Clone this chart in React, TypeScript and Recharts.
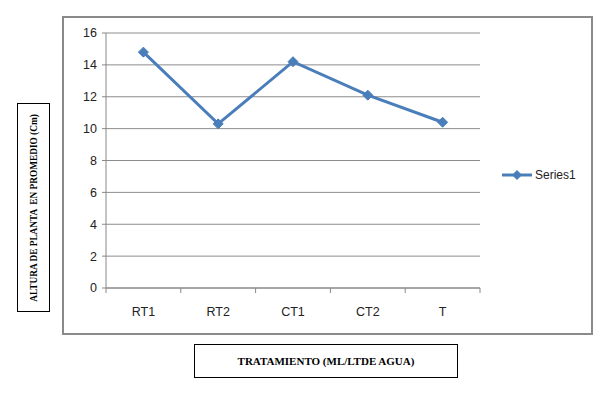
import React from 'react';
import { LineChart, Line, XAxis, YAxis, CartesianGrid } from 'recharts';

const categories = ['RT1', 'RT2', 'CT1', 'CT2', 'T'];
const series1 = [14.8, 10.3, 14.2, 12.1, 10.4];
const yTicks = [0, 2, 4, 6, 8, 10, 12, 14, 16];
const seriesName = 'Series1';
const yLabel = 'ALTURA DE PLANTA  EN PROMEDIO (Cm)';
const xLabel = 'TRATAMIENTO (ML/LTDE AGUA)';

const data = categories.map((c, i) => ({ cat: c, value: series1[i] }));

const W = 600;
const H = 395;
const Y_AXIS_W = 40;
const X_AXIS_H = 30;
const M = { top: 33, right: 120, bottom: 107 - X_AXIS_H, left: 106 - Y_AXIS_W };
const plotW = W - 106 - M.right;
const halfBand = plotW / categories.length / 2;
const axisY = H - 107;
const COLOR = '#4a7ebb';

const XTick = (props: any) => {
  const { x, payload, index } = props;
  return (
    <g>
      <line x1={x - halfBand} x2={x - halfBand} y1={axisY} y2={axisY + 5} stroke="#888" />
      {index === categories.length - 1 && (
        <line x1={x + halfBand} x2={x + halfBand} y1={axisY} y2={axisY + 5} stroke="#888" />
      )}
      <text x={x} y={axisY + 28} textAnchor="middle" fontSize={12.5} fill="#222" fontFamily="'Liberation Sans', Arial, sans-serif">
        {payload.value}
      </text>
    </g>
  );
};

const Diamond = (props: any) => {
  const { cx, cy } = props;
  if (cx == null || cy == null) return null;
  const r = 5;
  return <polygon points={`${cx},${cy - r} ${cx + r},${cy} ${cx},${cy + r} ${cx - r},${cy}`} fill={COLOR} stroke={COLOR} />;
};

const LegendBox = () => (
  <svg width={90} height={16} style={{ position: 'absolute', left: 500, top: 167, overflow: 'visible' }}>
    <line x1={2} x2={32} y1={8} y2={8} stroke={COLOR} strokeWidth={3} />
    <polygon points="17,3 22,8 17,13 12,8" fill={COLOR} />
    <text x={35} y={12} fontSize={12} fill="#222" fontFamily="'Liberation Sans', Arial, sans-serif">{seriesName}</text>
  </svg>
);

export default function App() {
  return (
    <div style={{ position: 'absolute', left: 0, top: 0, width: W, height: H, background: '#fff' }}>
      <div style={{ position: 'absolute', left: 62, top: 16, width: 531, height: 319, border: '2px solid #8a8a8a', boxSizing: 'border-box' }} />
      <div style={{ position: 'absolute', left: 17, top: 103, width: 33, height: 209, border: '1px solid #000', boxSizing: 'border-box' }}>
        <div style={{ position: 'absolute', left: 16, top: 104, transform: 'translate(-50%, -50%) rotate(-90deg)', whiteSpace: 'pre', fontFamily: "'Liberation Serif', 'Times New Roman', serif", fontWeight: 'bold', fontSize: 9.3, color: '#000' }}>
          {yLabel}
        </div>
      </div>
      <div style={{ position: 'absolute', left: 194, top: 344, width: 264, height: 34, border: '1px solid #000', boxSizing: 'border-box', display: 'flex', alignItems: 'center', justifyContent: 'center', fontFamily: "'Liberation Serif', 'Times New Roman', serif", fontWeight: 'bold', fontSize: 11, color: '#000' }}>
        {xLabel}
      </div>
      <div style={{ position: 'absolute', left: 0, top: 0 }}>
        <LineChart width={W} height={H} data={data} margin={M}>
          <CartesianGrid vertical={false} stroke="#8c8c8c" strokeWidth={1} />
          <XAxis dataKey="cat" scale="band" stroke="#888" tickLine={false} tick={<XTick />} interval={0} height={X_AXIS_H} />
          <YAxis
            domain={[0, 16]}
            ticks={yTicks}
            stroke="#888"
            width={Y_AXIS_W}
            tickSize={4}
            tickMargin={5}
            interval={0}
            tick={{ fill: '#222', fontSize: 12.5, fontFamily: "'Liberation Sans', Arial, sans-serif" }}
          />
          <Line
            type="linear"
            dataKey="value"
            name={seriesName}
            stroke={COLOR}
            strokeWidth={3}
            dot={<Diamond />}
            activeDot={false}
            isAnimationActive={false}
          />
        </LineChart>
      </div>
      <LegendBox />
    </div>
  );
}
